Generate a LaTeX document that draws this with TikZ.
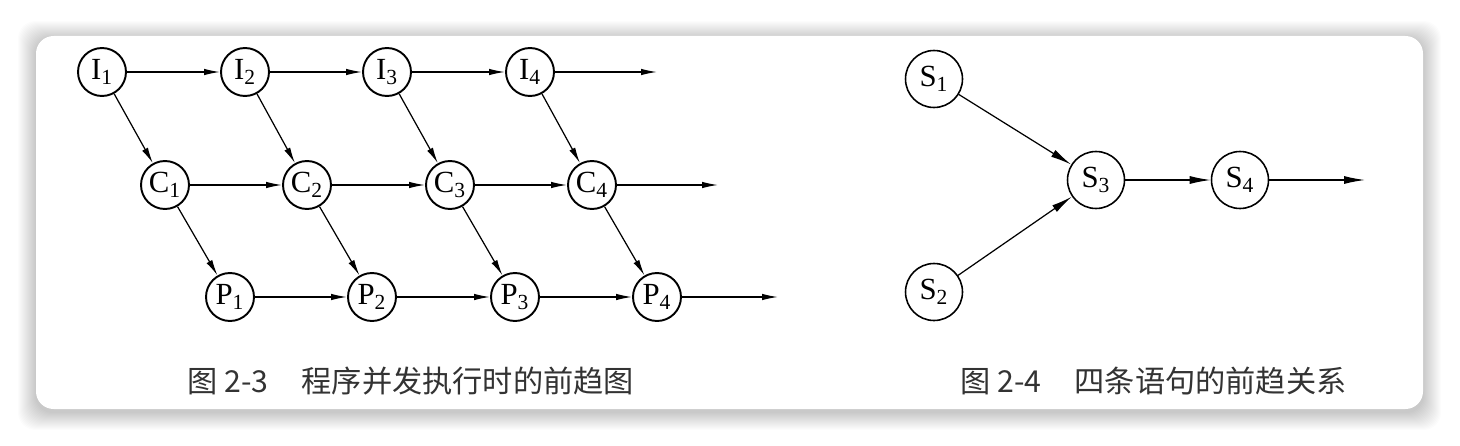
\documentclass[tikz,border=0pt]{standalone}
\usepackage{fontspec}
\setmainfont{Liberation Serif}
\newfontfamily\cjk{Noto Sans CJK SC}
\usetikzlibrary{arrows.meta}

\tikzset{
	state/.style={circle, draw, line width=1.1pt, minimum size=0.96cm, inner sep=0pt, font=\fontsize{17.5}{17.5}\selectfont},
	stmt/.style={circle, draw, line width=0.9pt, minimum size=1.14cm, inner sep=0pt, font=\fontsize{17.5}{17.5}\selectfont},
	flow/.style={line width=0.7pt, -{Latex[length=0.32cm, width=0.13cm]}},
	bigflow/.style={line width=0.7pt, -{Latex[length=0.42cm, width=0.16cm]}},
	caption/.style={anchor=west, inner sep=0pt, font=\cjk\fontsize{17.2}{17.2}\selectfont, text=black!80}
}

\begin{document}
\begin{tikzpicture}[x=0.02cm, y=-0.02cm]
				% page, soft shadow and card
				\fill[white] (0,0) rectangle (1460,446);
				\foreach \d in {1,...,18}
					\fill[black, opacity=0.012, rounded corners=10pt] (36-\d,36-\d+3) rectangle (1423+\d,409+\d+3);
				\fill[white, rounded corners=10pt] (36,36) rectangle (1423,409);
				\useasboundingbox (0,0) rectangle (1460,446);

				% Fig 2-3: input, compute, print
				\node[state] (i1) at (102,72) {I\textsubscript{1}};
				\node[state] (i2) at (245,72) {I\textsubscript{2}};
				\node[state] (i3) at (387,72) {I\textsubscript{3}};
				\node[state] (i4) at (530,72) {I\textsubscript{4}};

				\node[state] (c1) at (165,185) {C\textsubscript{1}};
				\node[state] (c2) at (307,185) {C\textsubscript{2}};
				\node[state] (c3) at (450,185) {C\textsubscript{3}};
				\node[state] (c4) at (592,185) {C\textsubscript{4}};

				\node[state] (p1) at (230,297) {P\textsubscript{1}};
				\node[state] (p2) at (372,297) {P\textsubscript{2}};
				\node[state] (p3) at (515,297) {P\textsubscript{3}};
				\node[state] (p4) at (657,297) {P\textsubscript{4}};

				\coordinate (iend) at (657,72);
				\coordinate (cend) at (718,185);
				\coordinate (pend) at (778,297);

				% horizontal arrows
				\draw[flow] (i1) -- (i2);
				\draw[flow] (i2) -- (i3);
				\draw[flow] (i3) -- (i4);
				\draw[flow] (i4) -- (iend);
				\draw[flow] (c1) -- (c2);
				\draw[flow] (c2) -- (c3);
				\draw[flow] (c3) -- (c4);
				\draw[flow] (c4) -- (cend);
				\draw[flow] (p1) -- (p2);
				\draw[flow] (p2) -- (p3);
				\draw[flow] (p3) -- (p4);
				\draw[flow] (p4) -- (pend);

				% diagonal arrows
				\draw[flow] (i1) -- (c1);
				\draw[flow] (i2) -- (c2);
				\draw[flow] (i3) -- (c3);
				\draw[flow] (i4) -- (c4);
				\draw[flow] (c1) -- (p1);
				\draw[flow] (c2) -- (p2);
				\draw[flow] (c3) -- (p3);
				\draw[flow] (c4) -- (p4);

				\node[caption] (cap1) at (187,381) {图 2-3\hspace{1.1em}程序并发执行时的前趋图};

				% Fig 2-4: four statements
				\node[stmt] (s1) at (934,79) {S\textsubscript{1}};
				\node[stmt] (s2) at (934,292) {S\textsubscript{2}};
				\node[stmt] (s3) at (1096,180) {S\textsubscript{3}};
				\node[stmt] (s4) at (1240,180) {S\textsubscript{4}};
				\coordinate (send) at (1365,180);

				\draw[bigflow] (s1) -- (s3);
				\draw[bigflow] (s2) -- (s3);
				\draw[bigflow] (s3) -- (s4);
				\draw[bigflow] (s4) -- (send);

				\node[caption] (cap2) at (960,381) {图 2-4\hspace{1.1em}四条语句的前趋关系};
			\end{tikzpicture}
\end{document}
